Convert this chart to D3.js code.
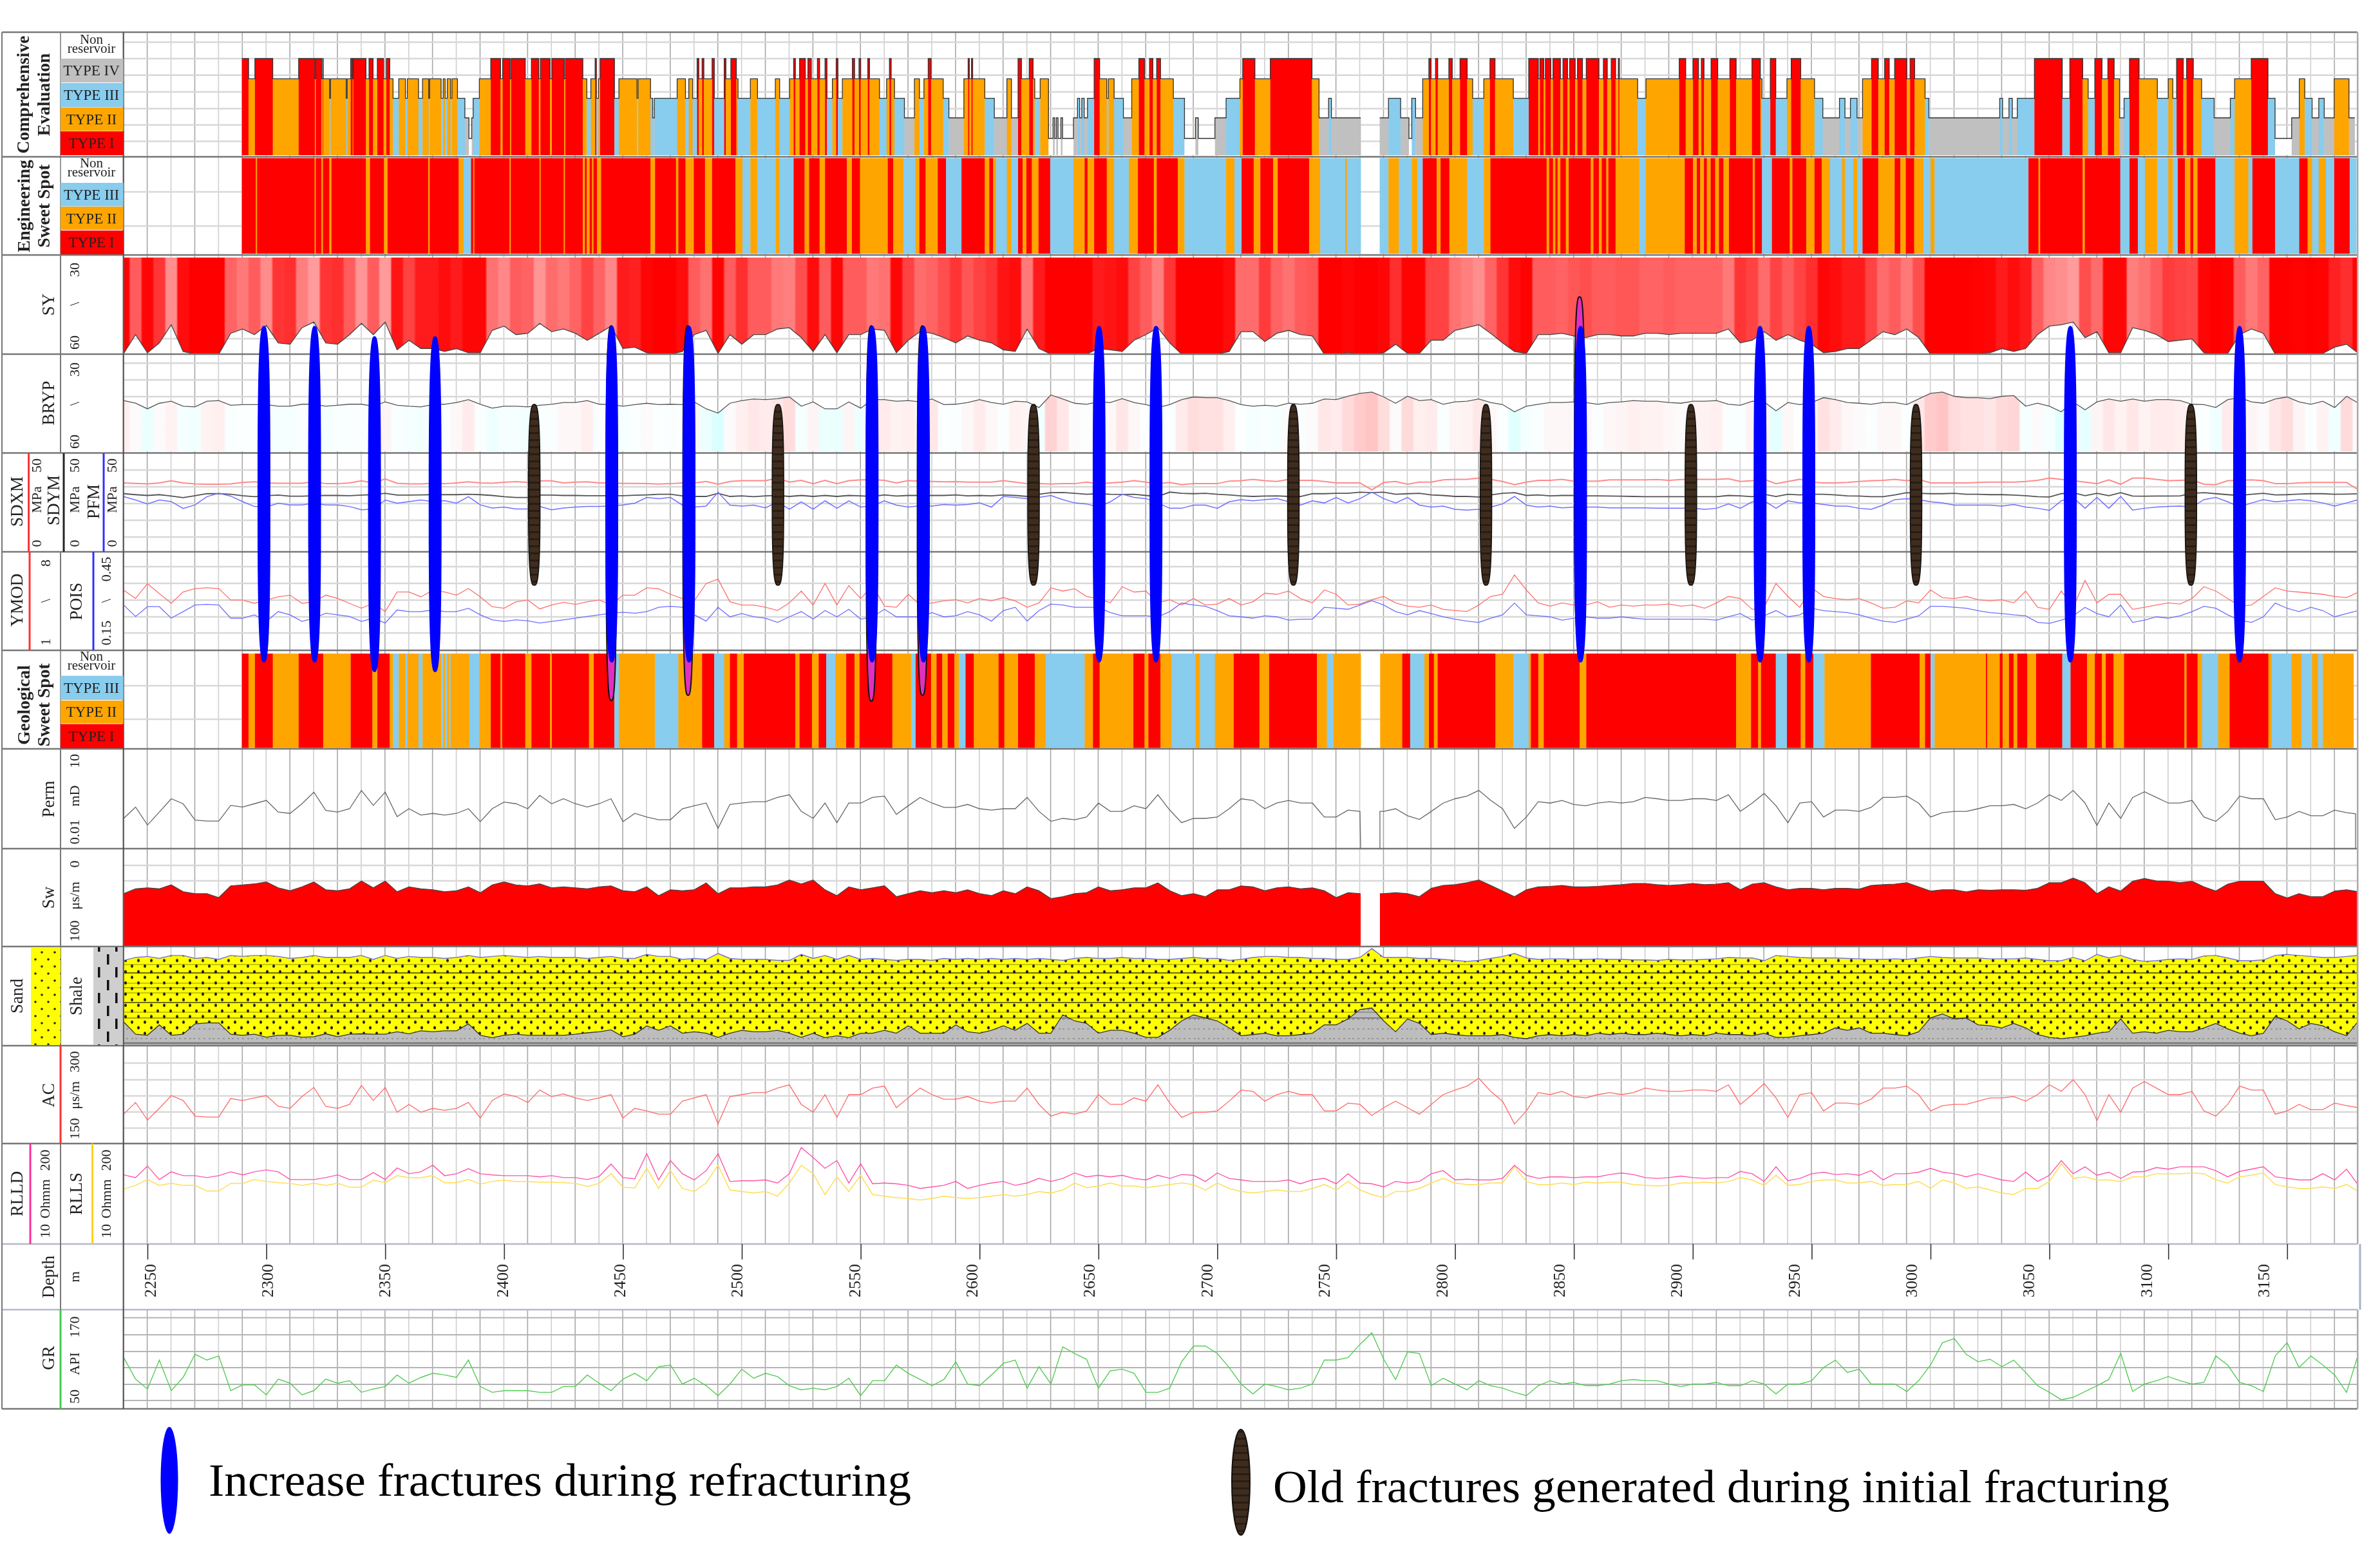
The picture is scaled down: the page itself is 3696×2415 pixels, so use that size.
<!DOCTYPE html>
<html><head><meta charset="utf-8">
<script src="https://cdn.jsdelivr.net/npm/d3@7"></script>
<style>html,body{margin:0;padding:0;background:#fff}svg{display:block;filter:blur(.7px)}text{font-family:"Liberation Serif",serif;fill:#222}</style>
</head><body><svg id="c" width="3696" height="2415"></svg>
<script>
// ---------- depth sampling: every 5 m from 2240 m, ten values per row ----------
const startDepth=2240, stepDepth=5;
const depthTicks=[2250,2300,2350,2400,2450,2500,2550,2600,2650,2700,2750,2800,2850,2900,2950,3000,3050,3100,3150];
const typeNames=["","TYPE I","TYPE II","TYPE III","TYPE IV","Non reservoir"];
const gapStart=2760.3, gapEnd=2768.4, permEnd=3178.8;

const compRuns=[[2289.7,0],[2292.5,1],[2295.2,2],[2302.7,1],[2313.6,2],[2320.4,1],[2320.8,2],[2323.2,1],[2323.7,2],[2323.9,1],[2326.6,2],[2327,3],[2333.6,2],[2334,3],[2335.5,2],[2336.3,1],[2336.6,2],[2341.9,1],[2343.2,2],[2344.9,1],[2346.7,2],[2349.3,1],[2350.5,2],[2351.9,1],[2353.3,2],[2355.7,3],[2358.5,2],[2359.3,3],[2364,2],[2365.7,3],[2368.3,2],[2368.7,3],[2373.5,2],[2374.4,3],[2375.2,2],[2376.1,3],[2377.5,2],[2378.1,3],[2380.4,2],[2383.5,3],[2385.2,4],[2386.4,5],[2387,4],[2389.6,3],[2394.4,2],[2398.5,1],[2399.4,2],[2402.5,1],[2403,2],[2408.9,1],[2411.5,2],[2414.6,1],[2415.3,2],[2419.3,1],[2420.1,2],[2425.3,1],[2425.8,2],[2433.1,1],[2434.8,2],[2436.5,3],[2438.3,2],[2438.8,1],[2439.7,3],[2440.4,2],[2446.4,1],[2448.3,3],[2455.9,2],[2456.4,3],[2461.6,2],[2462.5,3],[2463.2,4],[2472.8,3],[2476.3,2],[2477.7,3],[2479.3,2],[2481.2,3],[2481.9,1],[2483.3,2],[2484,1],[2487.5,2],[2488.4,1],[2492.6,3],[2493.3,1],[2495.4,2],[2497.7,1],[2498.4,2],[2503.6,3],[2506.6,2],[2514.1,3],[2515.9,2],[2520.1,3],[2521.8,2],[2522.5,1],[2524.3,2],[2526.7,1],[2527.8,2],[2529.2,1],[2531.8,2],[2532.7,1],[2535,2],[2535.8,1],[2538.1,3],[2539.7,2],[2540.4,1],[2542.3,3],[2546.5,2],[2547.4,1],[2549.3,2],[2550,1],[2553,2],[2553.7,1],[2557.9,2],[2560.9,3],[2562.1,2],[2562.8,1],[2564.2,2],[2568.4,3],[2572.6,4],[2574.7,2],[2576.6,3],[2578.4,2],[2579.6,1],[2584.7,2],[2587.1,3],[2593.4,4],[2595.2,2],[2595.7,1],[2596.6,2],[2597.1,1],[2602.2,2],[2606.2,3],[2611.5,4],[2613.4,2],[2616.2,4],[2617.6,1],[2620.9,2],[2622.5,1],[2623.2,2],[2625.5,3],[2629,2],[2630.9,5],[2631.6,4],[2632.3,5],[2633,4],[2634.2,5],[2634.9,4],[2639.5,5],[2641.2,4],[2642.1,3],[2643,4],[2644,3],[2645.4,4],[2648.2,3],[2650.5,1],[2653.5,2],[2654.2,3],[2656.6,2],[2660.5,3],[2664,4],[2667,2],[2669.4,1],[2671.5,2],[2672.9,1],[2674.5,2],[2676.1,1],[2681.5,2],[2686.2,3],[2690.8,5],[2692,4],[2699,5],[2703.7,4],[2709.5,3],[2710.7,2],[2715.8,1],[2722.3,2],[2739.8,1],[2742.8,2],[2746.8,4],[2748,3],[2760.3,4],[2768.3,0],[2772,4],[2777.1,3],[2780.6,4],[2781.8,5],[2783.4,3],[2786.4,4],[2789,2],[2789.9,1],[2791.8,2],[2792.7,1],[2797.4,2],[2798.8,1],[2802.1,2],[2805.1,1],[2807.4,2],[2812.1,3],[2814.7,2],[2816.8,1],[2824.5,2],[2831,3],[2835,1],[2835.7,2],[2837.3,1],[2838,2],[2840.3,1],[2841.2,2],[2844.3,1],[2845.4,2],[2847.3,1],[2848.2,2],[2850.5,1],[2851.5,2],[2853.6,1],[2855.2,2],[2860.5,1],[2862.4,2],[2864,1],[2865.7,2],[2867.5,1],[2868.7,2],[2869.1,1],[2876.8,2],[2880.3,3],[2894.3,2],[2897,1],[2900.1,2],[2902.4,1],[2903.6,2],[2904.7,1],[2907.7,2],[2910.5,1],[2915.6,2],[2918.2,1],[2924.9,2],[2928.4,1],[2929.1,2],[2932.6,3],[2934.9,1],[2939.6,3],[2941.4,2],[2945.4,1],[2951.2,2],[2954.7,3],[2961.7,4],[2964,3],[2966.3,4],[2969.1,3],[2971.4,4],[2975.2,2],[2978,1],[2980.7,2],[2982.6,1],[2984.9,2],[2990,1],[2991.4,2],[2993.3,1],[2997.7,2],[2999.3,3],[3029.1,4],[3030.3,3],[3033,4],[3034.4,3],[3036.5,4],[3043.7,3],[3055.4,1],[3058.6,3],[3064,1],[3066.3,2],[3069.1,3],[3072.1,1],[3074.6,2],[3077.2,1],[3079.5,2],[3081.4,4],[3083.7,3],[3087.7,1],[3095.4,2],[3100,3],[3101.9,2],[3103.5,3],[3106.3,1],[3107.7,2],[3110.5,1],[3114,2],[3119.3,3],[3126.1,4],[3127.9,3],[3134.9,2],[3141.9,1],[3144.9,3],[3151.9,5],[3155.1,4],[3157.4,2],[3160.5,3],[3163.3,4],[3165.6,3],[3169.8,4],[3176,2],[3178.4,4]];

const engRuns=[[2289.7,0],[2295.6,1],[2296.1,2],[2320.3,1],[2320.8,2],[2323.2,1],[2323.8,2],[2326.5,1],[2327.4,2],[2341.9,1],[2343.6,2],[2349.5,1],[2351,2],[2368.1,1],[2368.7,2],[2380.9,1],[2383,2],[2386.1,3],[2387,1],[2387.5,2],[2402.3,1],[2402.8,2],[2414.9,1],[2415.4,2],[2425.1,1],[2425.6,2],[2433.1,1],[2434,2],[2434.8,1],[2436,2],[2437,1],[2437.6,2],[2439.1,1],[2440.8,2],[2461.6,1],[2463.5,2],[2472.3,1],[2473.3,2],[2476.3,1],[2479.8,2],[2484.5,1],[2487.5,2],[2497.3,1],[2500.3,2],[2503.6,3],[2506.6,2],[2514.3,3],[2515.9,2],[2521.8,3],[2526.4,1],[2528.3,2],[2532.7,1],[2535,2],[2544.2,1],[2546.3,2],[2549.7,1],[2561.4,2],[2563.7,1],[2568,2],[2573,3],[2574.7,2],[2577.3,1],[2582.4,2],[2585.9,1],[2592.4,3],[2602.2,1],[2604.1,2],[2605.7,1],[2606.9,2],[2611.5,3],[2613.4,2],[2616.2,3],[2618.1,1],[2619.7,2],[2622,1],[2624.8,2],[2629.7,1],[2639.5,3],[2644.2,2],[2645.4,1],[2648.2,2],[2653.5,1],[2656.6,2],[2662.8,3],[2666.6,2],[2673.3,1],[2674.5,2],[2683.4,1],[2686.2,2],[2703.7,3],[2707.2,2],[2710.2,3],[2715.3,1],[2718.1,2],[2723.5,1],[2725.4,2],[2738.6,1],[2743.3,2],[2753.8,3],[2754.5,2],[2760.3,3],[2768.3,0],[2772,3],[2776.4,2],[2781.8,3],[2784.1,2],[2786.4,3],[2792.3,1],[2793.9,2],[2797.6,1],[2805.1,2],[2812.1,3],[2814.9,2],[2838.5,1],[2839.6,2],[2841.2,1],[2842.2,2],[2843.1,1],[2844.3,2],[2846.6,1],[2847.8,2],[2857.1,1],[2858.2,2],[2860.5,1],[2861.7,2],[2863.6,1],[2864.5,2],[2867.5,1],[2877.5,2],[2880.3,3],[2896.6,2],[2900.1,1],[2901.7,2],[2903.1,1],[2904.7,2],[2905.9,1],[2907.5,2],[2909.4,1],[2911,2],[2912.9,1],[2915.2,2],[2925.2,1],[2926.1,2],[2929.1,1],[2933.3,3],[2940.8,1],[2941.9,2],[2947.7,1],[2951.2,2],[2954.2,1],[2957.7,2],[2962.8,3],[2964,2],[2967.5,3],[2969.1,2],[2971.4,3],[2978,1],[2984.9,2],[2987.3,1],[2989.6,2],[2993.1,1],[2997,2],[3000,3],[3001.7,2],[3041.2,3],[3045.4,1],[3046.1,2],[3064,1],[3064.9,2],[3079.8,1],[3083.7,3],[3087.2,1],[3090.2,3],[3095.4,2],[3100,3],[3101.9,2],[3104,3],[3107,1],[3109.3,2],[3110.5,1],[3112.3,2],[3119.8,1],[3127.9,3],[3133.7,2],[3135.4,3],[3144.9,1],[3155.1,3],[3158.6,1],[3160.5,2],[3163.3,3],[3166.3,2],[3169.8,3],[3176.3,1],[3179.1,3]];

const geoRuns=[[2289.7,0],[2292.5,1],[2295.2,2],[2302.7,1],[2313.6,2],[2323.9,1],[2335.5,2],[2344.6,1],[2346.7,2],[2351.9,1],[2353.3,2],[2355.7,3],[2358.5,2],[2359.3,3],[2364,2],[2365.7,3],[2373.5,2],[2374.4,3],[2375.2,2],[2376.1,3],[2376.9,2],[2377.5,3],[2385.4,2],[2389.6,3],[2394.4,2],[2398.5,1],[2399.2,2],[2408.9,1],[2411.5,2],[2419.3,1],[2420.1,2],[2435.7,1],[2437.7,2],[2446.4,1],[2448.3,3],[2463.5,2],[2473.3,3],[2478.6,2],[2483.3,2],[2488.4,1],[2492.6,3],[2495,2],[2498,1],[2500.8,2],[2522.5,1],[2524.3,2],[2529.5,1],[2532.3,2],[2535.5,1],[2539.3,3],[2543.9,2],[2547.4,1],[2549.5,2],[2563.3,1],[2571.2,2],[2573.1,3],[2579.6,1],[2581.9,2],[2584.3,1],[2586.6,2],[2589.4,1],[2591.3,2],[2594.1,3],[2597.6,1],[2608,2],[2610.4,1],[2616.2,2],[2623.2,1],[2627.9,2],[2644.2,3],[2647.7,2],[2650.5,1],[2662.8,2],[2664.7,2],[2669.4,1],[2671,2],[2676.1,1],[2680.8,2],[2690.8,3],[2692.7,2],[2699,3],[2706.9,2],[2717.7,1],[2721.8,2],[2741.9,1],[2746.1,2],[2748.9,3],[2760.3,2],[2768.5,0],[2777.8,2],[2781.1,1],[2787.1,3],[2789,2],[2791.1,1],[2792.7,2],[2817,1],[2824.5,2],[2831,3],[2831.9,2],[2835,1],[2837.3,2],[2852.4,1],[2855.2,2],[2918.2,1],[2924.5,2],[2927.5,1],[2928.7,2],[2934.9,1],[2939.6,3],[2945.4,1],[2947.3,2],[2950.7,1],[2955.4,3],[2974.9,2],[2995.4,1],[2997.7,2],[3000,1],[3001.7,3],[3023.3,2],[3023.8,1],[3029.1,2],[3030.3,1],[3033,2],[3034.9,1],[3036.5,2],[3040.7,1],[3044.4,2],[3055.4,1],[3058.9,3],[3065.8,1],[3069.1,2],[3072.1,1],[3073.7,2],[3077,1],[3081.4,2],[3106.8,1],[3107.7,2],[3112.3,1],[3114.2,2],[3121,3],[3125.8,2],[3142.1,1],[3143.5,2],[3151.9,3],[3156,2],[3160.5,3],[3163,2],[3165,3],[3167.4,2],[3177.9,2]];

const syValues=[59.8,54.1,59.6,56.6,51.1,59.2,60,60,60,53.7,
52.4,54.1,51.3,56.6,57,52,50.3,56.6,57,54.1,
50.7,54.1,50.3,58.7,55.8,58.3,58.3,59.2,58.3,59.6,
59.6,52.8,51.5,54.1,53.7,50.7,53.2,52.4,53.7,55.8,
53.7,51.5,58.3,57.9,59.6,60,60,59.2,54.1,52.8,
59.8,54.1,57,54.1,54.1,52.4,52,55,59.2,54.1,
59.6,54.1,54.1,52.4,52.8,59.6,55.8,53.2,53.7,55,
56.6,54.5,55.8,56.6,58.7,59.2,52.4,58.3,60,60,
60,60,58.3,58.7,59.2,55.8,54.1,52,56.6,60,
60,60,60,59.2,53.2,53.2,56.2,53.7,52.8,54.1,
54.5,60,60,59.6,60,60,59.6,57,59.8,59.8,
55.8,55.8,52.8,52,51.1,53.7,56.6,59.2,59.8,54.1,
54.1,53.7,54.5,55,54.1,54.1,54.5,54.5,53.7,53.7,
54.1,53.7,53.7,53.7,53.7,52.4,56.6,55.8,53.2,55.8,
54.1,55.8,57,59.6,59.2,58.3,58.3,55.8,53.2,54.1,
52.4,55,60,60,60,60,59.8,59.6,58.3,59.2,
58.3,54.1,51.5,51.1,50.3,55,53.2,59.6,59.6,52,
52.8,54.1,56.2,55.8,55.4,59.6,60,59.8,54.1,52.4,
53.7,60,60,59.8,60,59.8,57.9,57,59.8];

const brypValues=[44.1,44.9,46.6,44.9,44.3,45.8,46,44.3,44.1,45.5,
45.3,45.3,45.3,45.8,45.8,45.2,45.2,45.8,45.5,45.2,
45.2,45.8,44.5,45.5,45.8,46,45.3,45.2,44.7,43.8,
45.2,46.4,45.8,45.8,46,45.5,45.2,44.7,44.7,44.1,
45.2,45.3,45.8,45.3,44.9,45.3,45.2,45.3,44.5,46.6,
47.9,44.9,44.1,43.6,43.8,43.5,43,45.8,44.5,46.6,
46.6,44.5,46.4,43.8,43.8,44.3,44.1,44.5,43.6,45.3,
45.2,44.7,43.8,44.7,45.2,44.3,44.5,46.2,42.4,43.6,
44.9,45.2,44.5,44.7,43.5,44.7,45.3,46.2,45.3,43.8,
43,43.2,43.2,44.1,45.3,45.8,45.5,45.8,44.9,45.2,
44.9,43.6,43.8,42.8,41.9,41.5,43,44.9,42.8,44.1,
43.8,45.2,44.5,44.3,43.6,44.7,45.3,47.5,45.8,45.2,
44.7,44.7,44.5,44.7,45.2,44.7,44.5,44.1,44.3,44.3,
44.7,44.9,44.3,44.3,44.1,45.2,45.5,44.3,44.5,47.2,
44.7,45.3,44.7,43.2,43.8,44.7,44.9,45.2,44.7,44.7,
45.3,43.6,41.9,41.5,42.8,43.2,43.2,43.5,42.8,42.6,
45.8,44.9,45.8,47.5,44.5,46.9,44.5,43.6,44.3,43.6,
44.3,43.8,43.8,44.1,45.2,45.3,46.2,43.8,43.2,44.5,
44.9,43.6,43,44.5,45.2,44.3,46.2,42.8,44.9];

const sdxmValues=[35,34.7,34.5,35,36,35,34.5,34.3,34.3,34.5,
35.2,35.5,35,34.8,34.8,34.8,35.5,34.6,34.6,35,
36,35,37,34.8,34.5,34.5,34.7,34.6,35,35.5,
35,34.8,35.3,35.6,35.2,36,36,35,35.4,35.5,
35,35,34.7,34.7,34.6,34.4,34.6,35,35,35.7,
34.3,35.7,36.1,36.1,36.1,37.4,35.4,36.3,34.6,36.3,
34.6,36.1,36.5,36.6,36.3,35,36.1,35.9,35.7,35.5,
35.6,35.4,35.4,35.4,36.1,35.4,34.6,34.6,34.4,34.6,
34.6,35.4,34.6,35,35.4,36.1,35.4,34.6,35.2,34.1,
34.6,34.6,34.6,35.9,36.1,36.8,36.1,35.7,36.8,36.3,
36.3,35.7,35,35,35,31.4,35.2,35.7,34.3,35.4,
35.4,36.5,36.8,36.8,37.4,36.8,35.7,34.1,35.4,36.3,
36.3,36.8,35.9,35.9,35.9,36.5,36.5,36.5,36.5,36.7,
36.3,36.7,36.8,36.8,36.8,37.1,35.7,36.1,36.8,34.6,
35.7,36.8,35.4,35,35,35.2,35.7,36.1,36.3,36.8,
36.1,36.8,35,35,35,35,35.2,35.4,35.4,35.4,
35.7,36.3,37.4,36.8,36.1,35.4,34.6,36.5,34.3,37.4,
37.4,36.8,36.1,36.3,36.5,34.3,34.1,36.1,36.3,36.5,
36.1,34.6,34.6,35,35.2,35.2,35.2,35.2,31.4];

const sdymValues=[29.5,29,28.6,29,28.3,27.5,28.5,29.5,29.5,29.2,
28.5,28,28.5,28.8,28.2,28.2,28.5,28.6,28.6,28.5,
28.8,29,29.7,28.8,28.8,28.9,29,29,29,29.2,
29,28.6,28,27.6,27.6,28.8,28.8,28.6,28.6,28.5,
28.5,28.5,28.5,28.7,28.9,29.2,29.2,28.4,28.1,28.1,
29.7,28.1,28.4,28,28.4,28.6,28.1,28.6,28.1,28.6,
28.1,28.6,28.4,28.1,28.9,28.3,28.6,28.6,28.6,28.6,
28.9,28.4,28.6,28.4,28.9,28.6,28.1,29.2,30,30.1,
29.7,29.2,29.5,29.2,29.1,29.2,28.6,28.1,30.3,29.7,
29.5,29.7,29.2,28.9,28.4,28.1,28.3,28.4,28.1,28.1,
29.5,29.5,29.7,29.7,30.3,30,30.3,29.2,29.5,29.7,
28.9,28.6,28.1,28.1,27.8,28.9,29.7,30,28.6,28.9,
28.4,28.6,28.6,28.4,28.4,28.3,28.2,28.1,28,28,
28,28,28,28,28,28.6,28.4,28,29.2,28.1,
29.2,28.9,29.2,29.2,28.9,28.4,28.3,28,28,28.9,
30,29.7,29.5,29.5,29.7,29.2,29.2,29,29,28.8,
28.5,28,27.8,29.5,30,28.5,29.7,28.5,30,28.3,
28.2,28.3,28.3,28.4,29.7,30,29.5,29,28.6,29.2,
29.7,28.9,29,29.3,29.5,29.5,29.2,29.3,29.5];

const pfmValues=[28,26.3,24.3,26.3,25.5,22,23.8,28,29.7,28.3,
25.5,23,22.7,24.7,23.8,23.8,24.7,23.8,23.8,23,
21.3,21.7,26.3,24.7,25.5,26.3,25.5,26,24.7,28,
23.8,22.2,22.7,21.7,21.7,23,21.3,22.2,22.7,23,
23,23.3,23.8,24.7,27.6,27,27.6,23.7,22.7,23.2,
30.3,23.7,23.2,23.7,22.3,25.4,21.6,25.4,21.6,25.9,
22.1,25.9,22.7,23.4,25.9,23.7,22.7,23.4,23.2,24,
23.7,24,24.8,22.7,28.1,27.6,27,27.6,28.6,26.5,
24.8,24.3,22.7,25.4,29.2,27.6,27,24.8,22.1,22.1,
23.7,23.7,22.1,25.4,26.5,25.9,26.5,27,25.4,23.7,
25.9,24.8,27.6,24.8,27,30.3,27,24.8,27.6,23.7,
22.7,23.2,21.6,21.2,21.6,22.7,24.3,28.1,23.7,22.7,
23.2,22.3,22.7,22.7,22.7,22.3,22.3,22.3,22.3,22.1,
22.1,22.1,22.1,21.6,22.1,24.3,22.1,25.4,25.9,22.1,
25.9,24.8,24.8,24,23.2,23.2,22.1,21.6,23.7,26.5,
27,26.5,25.4,24.8,23.7,23.7,23.7,23.7,23.2,24,
22.7,22.1,21,25.9,27.6,22.1,27.6,22.1,28.1,21.2,
22.1,22.7,23,23.2,22.7,26.5,27.6,25.4,22.7,24.8,
26.5,25.4,25.9,26.5,25.9,24.8,23.2,24.8,26.5];

const ymodValues=[5.27,4.69,5.74,5.04,4.34,5.15,5.39,5.44,5.39,4.57,
4.57,4.34,4.57,4.8,4.92,4.34,4.45,4.92,4.69,4.34,
3.99,4.34,3.75,5.15,5.15,4.8,5.27,5.15,4.92,5.39,
4.8,4.1,3.99,4.45,4.57,3.94,4.22,4.41,4.27,4.45,
4.57,4.22,4.92,4.92,5.44,5.37,4.98,4.68,4.52,5.75,
6.06,4.45,4.22,4.22,4.06,3.83,4.37,5.21,4.22,5.75,
4.22,5.6,4.68,5.6,4.14,4.06,4.98,4.22,4.37,4.52,
4.6,4.37,4.68,4.52,4.75,4.52,4.06,4.37,5.44,5.21,
5.37,4.83,4.68,4.37,5.52,5.14,5.21,4.37,4.6,4.22,
4.68,4.22,4.29,4.68,4.22,4.45,5.06,4.98,5.21,4.68,
4.37,5.29,4.98,4.22,4.29,4.6,4.83,4.37,4.14,4.06,
4.22,3.91,3.83,3.76,4.22,4.83,4.98,6.36,5.29,4.37,
4.14,4.37,4.22,4.22,4.45,4.06,4.22,4.14,4.22,4.22,
4.29,4.14,4.22,3.99,4.37,4.83,4.68,3.91,4.06,5.75,
4.83,4.06,5.44,4.83,4.68,4.6,4.68,4.37,3.99,4.06,
4.52,4.37,5.29,4.75,4.68,4.83,4.6,4.52,4.6,4.37,
5.21,4.06,3.91,5.21,4.06,5.98,4.37,4.98,4.98,3.91,
4.06,4.22,4.37,4.29,4.68,5.52,5.21,4.68,4.14,4.22,
4.83,5.44,5.21,5.14,5.06,4.98,4.83,4.75,5.14];

const poisValues=[.288,.253,.283,.283,.248,.268,.288,.29,.288,.248,
.248,.258,.238,.268,.258,.238,.248,.263,.258,.253,
.238,.248,.233,.273,.268,.268,.273,.268,.268,.278,
.258,.243,.238,.243,.24,.233,.238,.243,.248,.253,
.258,.263,.266,.263,.268,.281,.284,.281,.258,.239,
.281,.252,.262,.252,.248,.235,.252,.268,.245,.271,
.252,.275,.245,.252,.275,.252,.252,.252,.265,.252,
.255,.268,.258,.239,.271,.281,.239,.271,.291,.288,
.281,.281,.281,.265,.255,.255,.255,.252,.268,.294,
.288,.284,.271,.255,.252,.248,.255,.252,.242,.245,
.245,.281,.278,.275,.288,.301,.288,.268,.258,.271,
.262,.252,.245,.239,.235,.248,.258,.294,.258,.255,
.252,.242,.248,.252,.248,.248,.252,.248,.245,.245,
.245,.245,.245,.245,.242,.252,.262,.242,.255,.271,
.252,.258,.278,.271,.268,.265,.258,.248,.239,.235,
.245,.255,.284,.284,.281,.278,.271,.265,.262,.258,
.255,.235,.232,.242,.255,.281,.262,.252,.288,.235,
.242,.252,.248,.255,.268,.284,.278,.258,.242,.235,
.252,.294,.278,.268,.281,.271,.252,.262,.271];

const permLog=[-1.09,-.75,-1.29,-.9,-.5,-.65,-1.14,-1.17,-1.17,-.7,
-.75,-.65,-.55,-.9,-.94,-.65,-.3,-.85,-.9,-.8,
-.25,-.7,-.3,-1.04,-.8,-.99,-.94,-.99,-.94,-.8,
-1.19,-.8,-.6,-.65,-.8,-.4,-.65,-.5,-.65,-.75,
-.65,-.5,-1.19,-.94,-1.05,-1.13,-1.13,-.8,-.71,-.63,
-1.39,-.67,-.63,-.59,-.59,-.46,-.38,-.88,-1.09,-.63,
-1.22,-.63,-.63,-.46,-.42,-.97,-.71,-.46,-.63,-.76,
-.76,-.67,-.8,-.84,-.8,-.8,-.46,-.88,-1.18,-1.09,
-1.13,-1.05,-.63,-.88,-.88,-.71,-.8,-.38,-.84,-1.22,
-1.09,-1.09,-1.05,-.8,-.5,-.55,-.8,-.63,-.55,-.63,
-.63,-1.05,-1.05,-.84,-.88,null,-.88,-.8,-1.01,-1.12,
-.88,-.63,-.5,-.42,-.25,-.55,-.8,-1.39,-1.05,-.59,
-.63,-.55,-.67,-.71,-.63,-.59,-.63,-.59,-.46,-.5,
-.55,-.55,-.5,-.5,-.55,-.38,-.88,-.63,-.34,-.71,
-1.22,-.63,-.59,-1.05,-.84,-.84,-.88,-.76,-.46,-.46,
-.42,-.63,-1.05,-.92,-.88,-.88,-.8,-.71,-.71,-.67,
-.8,-.63,-.38,-.55,-.25,-.63,-1.3,-.63,-1.09,-.46,
-.29,-.46,-.63,-.63,-.55,-1.05,-1.18,-.88,-.42,-.5,
-.5,-1.13,-1.05,-.88,-1.01,-1.01,-.84,-.92,-.95];

const swValues=[46,41,40,41,37,44,46,46,50,38,
37,36,34,40,43,39,34,42,43,41,
33,40,33,44,39,41,42,44,43,39,
45,37,34,37,38,36,40,39,40,41,
39,38,43,44,39,48,42,43,42,35,
46,40,40,39,39,37,32,36,32,42,
48,39,42,40,38,49,46,43,45,43,
45,42,46,48,43,46,39,43,51,49,
46,45,39,43,42,40,40,35,43,48,
46,49,42,42,38,39,43,40,39,41,
40,43,50,45,46,null,46,45,46,49,
40.5,37.6,36.8,34.8,32,37.6,43.3,49,42,39,
38.5,37.6,39,39,38.5,37.6,36.8,35.6,35.6,36.8,
37.6,36.8,35.6,36.8,36.2,34.8,42,36.2,34.8,39,
42,40.5,40.5,42,40.5,40.5,41.3,37.6,36.8,36.2,
34.8,39,43.3,42,42,44.2,42,42.5,42,42,
42.5,40.5,34.8,34.8,30,34.8,46,39,43.3,33.3,
30.5,33,33.3,34.8,33.3,39,43.3,36.2,33.3,33.3,
33.3,46,50.4,46,49,49,43.3,42,44];

const sandTopPct=[14,11,10,12,9,9,12,11,13,9,
10,9,9,10,12,11,9,11,11,11,
9,13,9,12,10,11,11,12,11,9,
11,10,9,10,11,10,11,11,11,12,
11,10,12,12,8,10,10,13,12,13,
7,12,13,13,13,14,14,8,12,9,
13,9,13,12,13,14,13,13,14,12,
13,12,13,12,13,12,13,12,13,14,
12,11,12,12,11,12,12,13,13,12,
11,12,12,14,13,11,10,10,11,11,
12,12,13,13,11,2,11,11,11,12,
12,13,14,15,14,12,10,7,11.5,13,
12.4,12.4,13,13,12.4,13,13,13.5,13.5,14,
13,13.5,13.5,13,12.4,11,11.5,11.5,14.3,9,
10,11,11.5,11.5,11.5,12,12.4,13,13,12.4,
13,11.5,10,11,11.5,11.5,11.5,12.4,12.4,12.4,
11.5,13,14.3,14.3,11,14.3,8,11.5,9,13,
15,14.3,13,12.4,13,9.5,9,11.5,14.3,14.3,
13.5,9,8,9,10,11,11,10,9];

const shaleTopPct=[76,88.4,89.5,79,89.5,88.4,78,77,77,88.4,
89.5,88.4,91.5,89.5,89.5,91.5,91,88,91,88.4,
88,88.4,88.4,86,88,85,86,85,85,78,
89.5,92,89.5,88.4,89.5,89.5,89.5,89.5,88.4,87,
86,84,91,88.4,80,84.5,80,87.4,86,87.4,
91.6,87.4,84.5,86,86,84.5,87.4,91.6,87.4,92,
90,92,87.4,87.4,84.5,87.4,80,87.4,87.4,87.4,
79,86,87.4,84.5,80,84.5,77.5,87.4,87.4,69,
75,77.5,87.4,84.5,84.5,87.4,91.6,91.6,84.5,75,
69,72,75,82,90,88.8,87.4,90,90,88.8,
87.4,79,79,73,63.5,62,75,86,73,77.5,
88.8,87.4,88.8,90,90,90,88.8,91.6,93,90,
88.8,90,88.8,90,87.4,88.8,87.4,88.8,88.8,87.4,
88.8,90,88.8,90,87.4,88.8,88.8,90,87.4,91.6,
91.6,90,88.8,87.4,82,84.5,82,87.4,87.4,88.8,
90,86,72,68,73,72,79,80,82,77.5,
82,88.8,91.6,93,91.6,90,87.4,86,73,87.4,
86,87.4,84.5,86,86,82,77.5,83,87.4,90,
87.4,70.5,75,83,77.5,80,86,90,75];

const acValues=[195,213,186,204,223.5,216,192,190.6,190.6,219,
216,220,223.5,207,204,222,236,207,204,210,
239,216,236,198,210,198,204,201,204,213,
189,216,226,222,213,232,222,226,220,216,
220,225,189,204,200,195,195,215,220,225,
180,222,225,228,228,235,240,210,198,225,
190,225,225,235,238,205,220,235,225,218,
218,222,215,212,215,215,235,210,192,198,
195,200,225,210,210,220,215,240,212,190,
198,198,200,215,232,230,215,225,230,225,
225,200,200,212,210,193,205,215,205,195,
210,225,232,238,250,230,215,180,200,228,
225,230,222,220,225,228,225,228,235,232,
230,230,232,232,230,240,210,225,242,220,
190,225,228,200,212,212,210,218,235,235,
238,225,200,208,210,210,215,220,220,222,
215,225,240,230,248,225,185,225,198,235,
245,235,225,225,230,200,192,210,238,232,
232,195,200,210,202,202,212,208,205];

const rlldLog=[1.895,1.86,2.01,1.835,1.935,1.885,1.885,1.86,1.885,1.935,
1.895,1.935,1.96,1.935,1.835,1.835,1.835,1.86,1.895,1.835,
1.835,1.925,1.835,1.985,1.91,1.935,2.02,1.885,1.91,1.975,
1.91,1.895,1.885,1.885,1.885,1.87,1.885,1.86,1.86,1.835,
1.875,2.035,1.86,1.845,2.17,1.83,2.08,1.91,1.83,1.95,
2.17,1.81,1.82,1.82,1.83,1.79,1.91,2.25,2.12,1.98,
2.08,1.79,2.04,1.78,1.79,1.78,1.76,1.72,1.74,1.76,
1.81,1.72,1.76,1.79,1.81,1.76,1.79,1.85,1.81,1.85,
1.92,1.87,1.89,1.87,1.89,1.85,1.83,1.89,1.85,1.9,
1.89,1.81,1.92,1.85,1.83,1.81,1.81,1.81,1.83,1.78,
1.83,1.85,1.78,1.91,1.79,1.78,1.74,1.81,1.79,1.81,
1.91,1.95,1.83,1.84,1.83,1.83,1.85,2.02,1.89,1.85,
1.87,1.87,1.86,1.87,1.87,1.9,1.92,1.9,1.86,1.85,
1.86,1.88,1.86,1.85,1.86,1.86,1.94,1.91,1.81,2,
1.82,1.85,1.91,1.93,1.9,1.91,1.89,1.95,1.83,1.91,
1.91,1.93,1.98,1.93,1.91,1.87,1.91,1.87,1.83,1.81,
1.93,1.81,1.89,2.08,1.91,2,1.89,1.93,1.85,1.93,
1.94,1.99,1.97,2,2,2,1.95,1.87,1.94,1.97,
2,1.87,1.85,1.83,1.83,1.91,1.83,1.97,1.76];

const rllsLog=[1.71,1.76,1.835,1.76,1.785,1.76,1.76,1.685,1.685,1.785,
1.785,1.835,1.81,1.795,1.785,1.76,1.785,1.76,1.785,1.735,
1.735,1.825,1.795,1.885,1.86,1.86,1.885,1.795,1.795,1.835,
1.775,1.81,1.825,1.81,1.81,1.8,1.8,1.795,1.785,1.745,
1.785,1.91,1.735,1.725,1.98,1.72,1.95,1.72,1.68,1.79,
2.02,1.7,1.68,1.66,1.68,1.62,1.79,2.02,1.91,1.64,
1.87,1.68,1.89,1.64,1.62,1.6,1.59,1.57,1.59,1.62,
1.6,1.59,1.6,1.62,1.64,1.62,1.64,1.68,1.66,1.7,
1.79,1.73,1.75,1.79,1.75,1.75,1.73,1.75,1.77,1.79,
1.77,1.7,1.79,1.72,1.68,1.66,1.68,1.7,1.68,1.68,
1.72,1.77,1.7,1.81,1.7,1.64,1.6,1.68,1.68,1.72,
1.79,1.85,1.79,1.77,1.77,1.79,1.79,2,1.81,1.77,
1.77,1.79,1.77,1.8,1.79,1.8,1.8,1.77,1.76,1.75,
1.76,1.79,1.79,1.8,1.79,1.81,1.86,1.83,1.76,1.89,
1.76,1.77,1.81,1.83,1.83,1.79,1.79,1.81,1.76,1.77,
1.77,1.81,1.72,1.83,1.79,1.72,1.74,1.7,1.66,1.64,
1.72,1.72,1.81,2.04,1.85,1.87,1.83,1.83,1.81,1.87,
1.87,1.91,1.91,1.91,1.92,1.91,1.83,1.79,1.87,1.89,
1.92,1.77,1.74,1.72,1.72,1.74,1.72,1.77,1.68];

const grValues=[112,86,74,109,72,88,116,109,114,72,
79,79,67,86,81,67,72,86,81,84,
70,74,77,91,81,88,93,91,88,109,
77,70,72,72,72,70,70,77,77,91,
81,72,86,93,84,101,103,80,87,78,
66,80,98,87,93,89,78,73,75,73,
77,87,66,84,84,103,93,85.5,78,85.5,
107,80,78,91,105,109,75,101,80,125,
117,110,75,96,98,93,70,70,75,107,
126,126,117,100,80,68,80,77,73,75,
80,109,109,112,128,142,110,85.5,119,117,
78,87,80,73,84,78,75,70,66,78,
84,80,82,78,78,80,84,85.5,84,84,
80,77,80,80,82,78,78,84,80,68,
80,80,84,100,109,94,98,80,80,80,
71,84,103,130,135,116,107,110,101,109,
94,78,70,61,64,71,78,85.5,117,71,
80,84,89,84,80,82,114,103,82,78,
71,114,130,100,114,103,91,70,117];

const newFractureDepths=[2299,2320.3,2345.5,2371,2445.3,2477.8,2554.8,2576.4,2650.3,2674.2,2852.8,2928.3,2948.8,3058.8,3130];
const oldFractureDepths=[2412.7,2515.2,2622.7,2732,2813,2899.2,2993.9,3109.5];
const overlapFractureDepths=[2445.1,2477.4,2554.5,2576,2852.4];

// ---------- layout ----------
const L=3, C=94, P=191.7, R=3661;
const rows=[50,243.4,396,550,703.5,857,1010,1163,1318,1470,1624,1776,1932,2034,2188];
const col={1:"#ff0000",2:"#ffa500",3:"#88ccee",4:"#c0c0c0",5:"#ffffff"};
const svg=d3.select("#c");
const x=d3.scaleLinear().domain([2250,3150]).range([229,3551.8]);
const labelX=d3.scaleLinear().domain([2250,3150]).range([233,3515.7]);
const series=a=>a.map((v,i)=>({d:startDepth+stepDepth*i,v}));
const defs=svg.append("defs");
defs.append("clipPath").attr("id","plot").append("rect").attr("x",P).attr("y",0).attr("width",R-P).attr("height",2415);

function pattern(id,w,h,bg,draw){const p=defs.append("pattern").attr("id",id).attr("patternUnits","userSpaceOnUse").attr("width",w).attr("height",h);
  p.append("rect").attr("width",w).attr("height",h).attr("fill",bg);draw(p);}
pattern("dots",20,17.4,"#ffff00",p=>{[[5,4],[15,12.7]].forEach(c=>p.append("ellipse").attr("cx",c[0]).attr("cy",c[1]).attr("rx",2).attr("ry",2.5).attr("fill","#1a1a1a"));});
pattern("dotsBig",20,22,"#ffff00",p=>{[[5,5],[15,16]].forEach(c=>p.append("circle").attr("cx",c[0]).attr("cy",c[1]).attr("r",1.8).attr("fill","#222"));});
pattern("shaleFill",30,15,"#bdbdbd",p=>{p.append("line").attr("x1",0).attr("x2",30).attr("y1",8).attr("y2",8).attr("stroke","#8a8a8a").attr("stroke-width",1.4).attr("stroke-dasharray","3 5");});
pattern("shaleBox",27,40,"#cfcfcf",p=>{[[4,2],[17,22]].forEach(c=>p.append("rect").attr("x",c[0]).attr("y",c[1]).attr("width",3.5).attr("height",16).attr("fill","#111"));});
pattern("brown",30,11,"#3e2c1f",p=>{p.append("rect").attr("width",30).attr("height",3).attr("fill","#2a1c11");});

// grid
const gridG=svg.append("g");
const gridD=d3.range(0,95).map(k=>k);
const gridStep=x(2260)-x(2250);
function vgrid(y0,y1){gridG.selectAll(null).data(gridD).enter().append("line").attr("x1",k=>P+k*gridStep).attr("x2",k=>P+k*gridStep).attr("y1",y0).attr("y2",y1)
  .attr("stroke",k=>k%2?"#a8a8a8":"#cfcfcf").attr("stroke-width",1.6);}
vgrid(50,1932);vgrid(2034,2188);
const hLines={light:[65.5,91,116.7,142.7,168.8,194,219.5,298,351,423,449,475,500,526,564,590,616,642,668,730,756,782,808,834,880,906,932,958,983,1065,1117,1344,1368,1651,1677,1702,1727,1752],dark:[2046.5,2073,2099,2124,2150,2175]};
gridG.selectAll(null).data(hLines.light).enter().append("line").attr("x1",P).attr("x2",R).attr("y1",d=>d).attr("y2",d=>d).attr("stroke","#d8d8d8").attr("stroke-width",2.4);
gridG.selectAll(null).data(hLines.dark).enter().append("line").attr("x1",P).attr("x2",R).attr("y1",d=>d).attr("y2",d=>d).attr("stroke","#b4b4b4").attr("stroke-width",2);

const plot=svg.append("g").attr("clip-path","url(#plot)");

// categorical runs
function runs(data){let s=data[0][0];const out=[];data.slice(1).forEach(r=>{out.push({s,e:r[0],t:r[1]});s=r[0];});return out;}
const levelY={1:91,2:122.4,3:152.7,4:183,5:215};
const compR=runs(compRuns);
plot.selectAll(null).data(compR.filter(r=>r.t)).enter().append("rect")
  .attr("x",r=>x(r.s)).attr("width",r=>Math.max(x(r.e)-x(r.s),.5)+.4).attr("y",r=>levelY[r.t]).attr("height",r=>241-levelY[r.t]).attr("fill",r=>col[r.t]);
const outlinePts=[];compR.forEach(r=>{if(r.t){outlinePts.push({d:r.s,y:levelY[r.t]},{d:r.e,y:levelY[r.t]});}else outlinePts.push({d:r.s,y:null});});
plot.append("path").attr("d",d3.line().defined(p=>p.y!==null).x(p=>x(p.d)).y(p=>p.y)(outlinePts)).attr("fill","none").attr("stroke","#333").attr("stroke-width",1.3);
function bands(data,y0,y1){plot.selectAll(null).data(runs(data).filter(r=>r.t)).enter().append("rect")
  .attr("x",r=>x(r.s)).attr("width",r=>x(r.e)-x(r.s)+.4).attr("y",y0).attr("height",y1-y0).attr("fill",r=>col[r.t]);}
bands(engRuns,245.5,394);
bands(geoRuns,1015,1161.7);

// stepped colour bands along depth, one per sample
function gradient(id,vals,scale){const n=vals.length-1;const g=defs.append("linearGradient").attr("id",id).attr("gradientUnits","userSpaceOnUse").attr("x1",x(startDepth)).attr("x2",x(startDepth+stepDepth*n)).attr("y1",0).attr("y2",0);
  vals.forEach((v,i)=>{g.append("stop").attr("offset",Math.max(0,(i-.42)/n)).attr("stop-color",scale(v));g.append("stop").attr("offset",Math.min(1,(i+.42)/n)).attr("stop-color",scale(v));});}
// SY
const ySY=d3.scaleLinear().domain([30,60]).range([396,550]);
gradient("gSY",syValues,d3.scaleLinear().domain([50,55,60]).range(["#ffa0a0","#ff4e4e","#ff0000"]));
plot.append("path").attr("d",d3.area().x(p=>x(p.d)).y0(400).y1(p=>ySY(p.v))(series(syValues))).attr("fill","url(#gSY)");
plot.append("path").attr("d",d3.line().x(p=>x(p.d)).y(p=>ySY(p.v))(series(syValues))).attr("fill","none").attr("stroke","#444").attr("stroke-width",1.3);
// BRYP
const yBR=d3.scaleLinear().domain([30,60]).range([550,703.5]);
gradient("gBR",brypValues,d3.scaleLinear().domain([41.5,44,45.3,47.5]).range(["#ffc4c4","#ffeeee","#fbffff","#e0ffff"]));
plot.append("path").attr("d",d3.area().x(p=>x(p.d)).y0(701).y1(p=>yBR(p.v))(series(brypValues))).attr("fill","url(#gBR)");
function curve(vals,y,color,w){plot.append("path").attr("d",d3.line().defined(p=>p.v!==null).x(p=>x(p.d)).y(p=>y(p.v))(series(vals))).attr("fill","none").attr("stroke",color).attr("stroke-width",w);}
curve(brypValues,yBR,"#555",1.3);
// stress
const ySD=d3.scaleLinear().domain([0,50]).range([857,704]);
curve(sdxmValues,ySD,"#ff8a8a",2);curve(sdymValues,ySD,"#555",1.8);curve(pfmValues,ySD,"#7070ff",1.5);
// modulus
const yYM=d3.scaleLinear().domain([1,8]).range([1010,857]);
const yPO=d3.scaleLinear().domain([.15,.45]).range([1010,857]);
curve(ymodValues,yYM,"#ff7070",1.3);curve(poisValues,yPO,"#6f6fff",1.3);
// Perm
const yPerm=d3.scaleLinear().domain([-2,1]).range([1318,1163]);
const permSeries=series(permLog).flatMap(p=>p.d===2765?[{d:gapStart,v:-2},{d:2765,v:null},{d:gapEnd,v:-2},{d:gapEnd,v:permLog[106]}]:p.d===3180?[{d:permEnd,v:p.v},{d:permEnd,v:-2}]:[p]);
plot.append("path").attr("d",d3.line().defined(p=>p.v!==null).x(p=>x(p.d)).y(p=>yPerm(p.v))(permSeries)).attr("fill","none").attr("stroke","#666").attr("stroke-width",1.3);
// Sw
const ySw=d3.scaleLinear().domain([0,100]).range([1318,1470]);
const swSeries=series(swValues).flatMap(p=>p.d===2765?[{d:gapStart,v:swValues[104]},{d:2765,v:null},{d:gapEnd,v:swValues[106]}]:[p]);
plot.append("path").attr("d",d3.area().defined(p=>p.v!==null).x(p=>x(p.d)).y0(1470).y1(p=>ySw(p.v))(swSeries)).attr("fill","#ff0000");
plot.append("path").attr("d",d3.line().defined(p=>p.v!==null).x(p=>x(p.d)).y(p=>ySw(p.v))(swSeries)).attr("fill","none").attr("stroke","#444").attr("stroke-width",1.2);
// Sand / shale
const yLith=d3.scaleLinear().domain([0,100]).range([1470,1624]);
const lith=sandTopPct.map((v,i)=>({d:startDepth+stepDepth*i,top:v,bot:shaleTopPct[i]}));
plot.append("path").attr("d",d3.area().x(p=>x(p.d)).y0(1624).y1(p=>yLith(p.bot))(lith)).attr("fill","url(#shaleFill)");
plot.append("path").attr("d",d3.area().x(p=>x(p.d)).y0(p=>yLith(p.bot)).y1(p=>yLith(p.top))(lith)).attr("fill","url(#dots)");
plot.append("path").attr("d",d3.line().x(p=>x(p.d)).y(p=>yLith(p.top))(lith)).attr("fill","none").attr("stroke","#7070e0").attr("stroke-width",1.4);
plot.append("path").attr("d",d3.line().x(p=>x(p.d)).y(p=>yLith(p.bot))(lith)).attr("fill","none").attr("stroke","#333").attr("stroke-width",1.3);
[[1498,.3],[1511,.75],[1527,.3],[1534,.45],[1542,.3],[1557,.75],[1572,.3],[1581,.45]].forEach(l=>plot.append("line").attr("x1",P).attr("x2",R).attr("y1",l[0]).attr("y2",l[0]).attr("stroke","#000").attr("stroke-opacity",l[1]).attr("stroke-width",1.6));
plot.append("line").attr("x1",P).attr("x2",R).attr("y1",1620).attr("y2",1620).attr("stroke","#777").attr("stroke-width",2.5);
// AC, resistivity, GR
const yAC=d3.scaleLinear().domain([150,300]).range([1776,1624]);
curve(acValues,yAC,"#ff6a6a",1.3);
const yRes=d3.scaleLinear().domain([1,Math.log10(200)]).range([1932,1776]);
curve(rllsLog,yRes,"#ffdd55",1.5);curve(rlldLog,yRes,"#ff55aa",1.4);
const yGR=d3.scaleLinear().domain([50,170]).range([2188,2034]);
curve(grValues,yGR,"#55cc55",1.4);

// frame
const frame=svg.append("g");
rows.forEach(y=>frame.append("line").attr("x1",L).attr("x2",R).attr("y1",y).attr("y2",y).attr("stroke",y===1932||y===2034?"#b4b8cc":"#777").attr("stroke-width",2.5));
[[L,50,2188,"#777",2],[P,50,2188,"#555",2.2],[R,50,1932,"#aaa",2],[R,2034,2188,"#aaa",2],[3665,1932,2034,"#a8b0c8",3],
 [C,396,704,"#777",2],[C,857,1010,"#777",2],[C,1163,1470,"#777",2],[C,1470,1624,"#777",2],[C,1776,2034,"#777",2],
 [C,50,396,"#777",1.5],[C,1010,1163,"#777",1.5],
 [44.6,704,857,"#ff3030",3],[99,704,857,"#222",3],[161,704,857,"#3030ff",3],[46,857,1010,"#ff3030",3],[145,857,1010,"#3030ff",3],
 [C,1624,1776,"#ff3030",3],[47,1776,1932,"#ff2f9a",3],[143.5,1776,1932,"#ffd020",3],[C,2034,2188,"#40cc50",3]
].forEach(l=>frame.append("line").attr("x1",l[0]).attr("x2",l[0]).attr("y1",l[1]).attr("y2",l[2]).attr("stroke",l[3]).attr("stroke-width",l[4]));

// depth axis
const axisG=svg.append("g").attr("transform","translate(0,1932)");
axisG.call(d3.axisBottom(x).tickValues(depthTicks).tickSize(24).tickFormat(""));
axisG.select(".domain").remove();axisG.selectAll("line").attr("stroke","#333").attr("stroke-width",1.6);
svg.selectAll(null).data(depthTicks).enter().append("text").attr("transform",d=>`translate(${labelX(d)},1963) rotate(-90)`).attr("text-anchor","end").attr("dominant-baseline","central").attr("font-size",26).text(d=>d);

// left table
function rot(t,xx,y,size,weight){svg.append("text").attr("transform",`translate(${xx},${y}) rotate(-90)`).attr("text-anchor","middle").attr("dominant-baseline","central").attr("font-size",size).attr("font-weight",weight||"normal").text(t);}
function typeBox(t,y0,y1){svg.append("rect").attr("x",C).attr("width",P-C).attr("y",y0).attr("height",y1-y0).attr("fill",col[t]);
  svg.append("text").attr("x",142).attr("y",(y0+y1)/2).attr("text-anchor","middle").attr("dominant-baseline","central").attr("font-size",23).text(typeNames[t]);}
function nonRes(y0){const w=typeNames[5].split(" ");const t=svg.append("text").attr("text-anchor","middle").attr("font-size",21);
  t.append("tspan").attr("x",142).attr("y",y0+7).text(w[0]);t.append("tspan").attr("x",142).attr("y",y0+21).text(w[1]);}
nonRes(61);typeBox(4,91,128);typeBox(3,129,166);typeBox(2,166.6,203.5);typeBox(1,204,241);
nonRes(253);typeBox(3,284,320.5);typeBox(2,321,357);typeBox(1,358,395);
nonRes(1019);typeBox(3,1049.5,1087);typeBox(2,1088,1123.5);typeBox(1,1124.5,1162);
rot("Comprehensive",35,147,27.5,"bold");rot("Evaluation",67,147,27.5,"bold");
rot("Engineering",36,320,27.5,"bold");rot("Sweet Spot",67,320,27.5,"bold");
rot("Geological",36,1095,27.5,"bold");rot("Sweet Spot",67,1095,27.5,"bold");
[["SY",75,473],["BRYP",75,626],["SDXM",25.5,779],["SDYM",83,777],["PFM",145,779],["YMOD",25.5,932],["POIS",118,934],["Perm",75,1241],["Sw",75,1394],["Sand",25.5,1547],["Shale",118,1547],["AC",75,1701],["RLLD",25.5,1854],["RLLS",118,1854],["Depth",75,1983],["GR",75,2109]].forEach(a=>rot(a[0],a[1],a[2],27));
[["30",115,419],["\\",115,472],["60",115,532],["30",115,574],["\\",115,627],["60",115,686],
 ["50",56,723],["MPa",56,776],["0",56,844],["50",115,723],["MPa",115,776],["0",115,844],["50",173.5,723],["MPa",173.5,776],["0",173.5,844],
 ["8",70,874.5],["\\",70,933],["1",70,997],["0.45",164.5,884],["\\",164.5,933],["0.15",164.5,983],
 ["10",115,1182],["mD",115,1236],["0.01",115,1292],["0",115,1342],["μs/m",115,1391],["100",115,1446],
 ["300",115,1649],["μs/m",115,1701],["150",115,1753],
 ["200",69,1802],["Ohmm",69,1862],["10",69,1912],["200",164.5,1802],["Ohmm",164.5,1862],["10",164.5,1912],
 ["m",115,1983],["170",115,2061],["API",115,2118],["50",115,2169]].forEach(a=>rot(a[0],a[1],a[2],22));
svg.append("rect").attr("x",48).attr("y",1471).attr("width",46).attr("height",152).attr("fill","url(#dotsBig)");
svg.append("rect").attr("x",145).attr("y",1471).attr("width",45).attr("height",152).attr("fill","url(#shaleBox)");

// fracture lenses: fuller than an ellipse towards the tips, as drawn in the picture
function lens(cx,top,bot,rx){const cy=(top+bot)/2,ry=(bot-top)/2,pts=[];
  d3.range(0,361,6).forEach(a=>{const t=a*Math.PI/180,c=Math.cos(t),s=Math.sin(t);
    pts.push([cx+rx*Math.sign(c)*Math.pow(Math.abs(c),2/3),cy+ry*Math.sign(s)*Math.pow(Math.abs(s),2/3)]);});
  return d3.line()(pts)+"Z";}
const fr=svg.append("g");
const overlapSpan={2445.1:[506,1088],2477.4:[506,1080],2554.5:[506,1089],2576:[506,1080],2852.4:[461,1000]};
const deepBlue={2345.5:1,2371:1};
fr.selectAll(null).data(overlapFractureDepths).enter().append("path").attr("d",d=>lens(x(d),overlapSpan[d][0],overlapSpan[d][1],8)).attr("fill","#e030c0").attr("stroke","#111").attr("stroke-width",2);
fr.selectAll(null).data(oldFractureDepths).enter().append("path").attr("d",d=>lens(x(d),628,909,9)).attr("fill","url(#brown)").attr("stroke","#111").attr("stroke-width",1.5);
fr.selectAll(null).data(newFractureDepths).enter().append("path").attr("d",d=>deepBlue[d]?lens(x(d),522,1044,10):lens(x(d),506,1029,10)).attr("fill","#0000ff");

// legend
svg.append("ellipse").attr("cx",263).attr("cy",2299).attr("rx",13.5).attr("ry",83).attr("fill","#0000ff");
svg.append("ellipse").attr("cx",1927).attr("cy",2302).attr("rx",14).attr("ry",82).attr("fill","url(#brown)").attr("stroke","#111").attr("stroke-width",2);
svg.append("text").attr("x",324).attr("y",2323).attr("font-size",72).attr("textLength",1091).attr("lengthAdjust","spacingAndGlyphs").style("fill","#000").text("Increase fractures during refracturing");
svg.append("text").attr("x",1977).attr("y",2333).attr("font-size",72).attr("textLength",1392).attr("lengthAdjust","spacingAndGlyphs").style("fill","#000").text("Old fractures generated during initial fracturing");
</script></body></html>
